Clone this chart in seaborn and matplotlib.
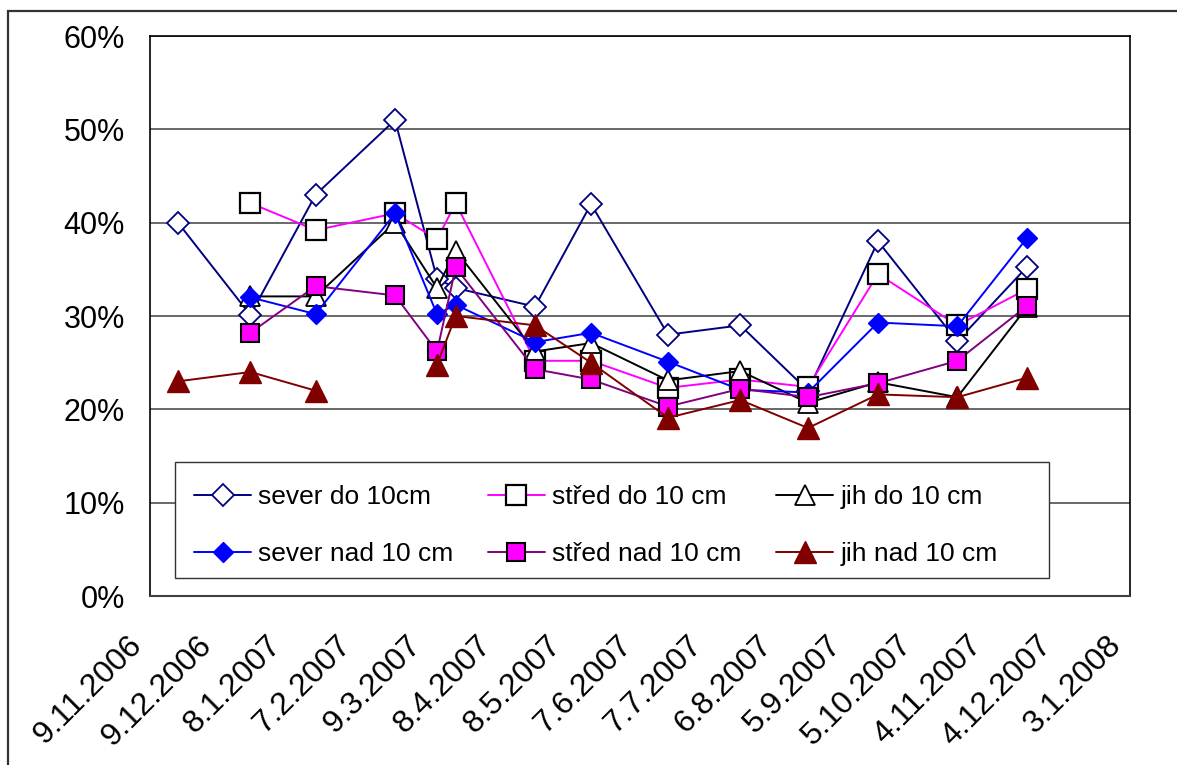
import numpy as np
import pandas as pd
import matplotlib
matplotlib.use("Agg")
import matplotlib.pyplot as plt
import matplotlib.transforms as mtransforms
from matplotlib.patches import Rectangle
import seaborn as sns

# Sampling dates and x-axis tick dates
sample_dates = ['21.11.2006', '22.12.2006', '19.1.2007', '22.2.2007', '12.3.2007',
                '20.3.2007', '23.4.2007', '17.5.2007', '19.6.2007', '20.7.2007',
                '18.8.2007', '17.9.2007', '21.10.2007', '20.11.2007']
tick_labels = ['9.11.2006', '9.12.2006', '8.1.2007', '7.2.2007', '9.3.2007', '8.4.2007',
               '8.5.2007', '7.6.2007', '7.7.2007', '6.8.2007', '5.9.2007', '5.10.2007',
               '4.11.2007', '4.12.2007', '3.1.2008']
y_ticks = [0, 10, 20, 30, 40, 50, 60]

nan = np.nan
# Values in percent
sever_do = [40, 30.1, 43, 51, 34, 33, 31, 42, 28, 29, 22, 38, 27.3, 35.3]
stred_do = [nan, 42.1, 39.2, 41, 38.2, 42.1, 25.2, 25.2, 22.3, 23.2, 22.4, 34.5, 29, 32.9]
jih_do = [nan, 32.1, 32.1, 40, 33, 37, 26.2, 27.1, 23.1, 24.1, 20.7, 22.9, 21.3, 31]
sever_nad = [nan, 32, 30.2, 41, 30.2, 31.2, 27.2, 28.2, 25.1, 22.1, 21.8, 29.3, 28.9, 38.4]
stred_nad = [nan, 28.2, 33.2, 32.2, 26.2, 35.2, 24.3, 23.2, 20.3, 22.2, 21.3, 22.8, 25.2, 31.1]
jih_nad = [23, 24, 22, nan, 24.8, 30, 29, 25, 19.1, 21, 18, 21.6, 21.3, 23.4]

series_names = ['sever do 10cm', 'střed do 10 cm', 'jih do 10 cm',
                'sever nad 10 cm', 'střed nad 10 cm', 'jih nad 10 cm']
series_values = [sever_do, stred_do, jih_do, sever_nad, stred_nad, jih_nad]
series_styles = [
    dict(color='#000080', marker='D', markersize=10.8, markerfacecolor='white',
         markeredgecolor='#000080', markeredgewidth=1.3),
    dict(color='#FF00FF', marker='s', markersize=15, markerfacecolor='white',
         markeredgecolor='black', markeredgewidth=1.6),
    dict(color='black', marker='^', markersize=14, markerfacecolor='white',
         markeredgecolor='black', markeredgewidth=1.3),
    dict(color='#0000FF', marker='D', markersize=10.2, markerfacecolor='#0000FF',
         markeredgecolor='#0000FF', markeredgewidth=1.0),
    dict(color='#800080', marker='s', markersize=13, markerfacecolor='#FF00FF',
         markeredgecolor='black', markeredgewidth=1.5),
    dict(color='#800000', marker='^', markersize=16.5, markerfacecolor='#800000',
         markeredgecolor='#800000', markeredgewidth=1.0),
]

sns.set_theme(style='white')
plt.rcParams['font.family'] = ['Liberation Sans', 'DejaVu Sans']
plt.rcParams['text.color'] = 'black'
plt.rcParams['xtick.color'] = 'black'
plt.rcParams['ytick.color'] = 'black'

W, H = 1177, 765
fig = plt.figure(figsize=(W / 100, H / 100), dpi=100)
fig.patch.set_facecolor('white')
ax = fig.add_axes([150 / W, 1 - 596 / H, 980 / W, 560 / H])
ax.set_facecolor('white')

dates = pd.to_datetime(sample_dates, format='%d.%m.%Y')
tick_dates = pd.to_datetime(tick_labels, format='%d.%m.%Y')

handles = {}
for z, (name, vals, style) in enumerate(zip(series_names, series_values, series_styles)):
    v = np.array(vals, dtype=float)
    ok = ~np.isnan(v)
    # split into contiguous runs so missing samples break the line
    runs, cur = [], []
    for i in range(len(v)):
        if ok[i]:
            cur.append(i)
        elif cur:
            runs.append(cur)
            cur = []
    if cur:
        runs.append(cur)
    for r in runs:
        sns.lineplot(x=dates[r], y=v[r], ax=ax, estimator=None, sort=False,
                     legend=False, linewidth=1.4, zorder=3 + z, **style)
        if name not in handles:
            handles[name] = ax.lines[-1]

ax.set_xlim(tick_dates[0], tick_dates[-1])
ax.set_ylim(0, 60)
ax.set_xticks(tick_dates)
ax.set_xticklabels(tick_labels, rotation=45, ha='right', va='center',
                   rotation_mode='anchor', fontsize=23, color='black')
ax.set_yticks(y_ticks)
ax.set_yticklabels([f'{t}%' for t in y_ticks], fontsize=22, color='black')
ax.set_xlabel('')
ax.set_ylabel('')

ax.tick_params(axis='x', direction='out', length=7, width=1.2, color='#555555',
               labelcolor='black', pad=25)
ax.tick_params(axis='y', direction='out', length=7, width=1.2, color='#555555',
               labelcolor='black', pad=11)

# nudge rotated date labels left of their ticks
shift = mtransforms.ScaledTranslation(-13 / 100, 0, fig.dpi_scale_trans)
for lab in ax.get_xticklabels():
    lab.set_transform(lab.get_transform() + shift)

ax.yaxis.grid(True, color='#404040', linewidth=1.1)
ax.xaxis.grid(False)
ax.set_axisbelow(True)
for side in ['left', 'top', 'right']:
    ax.spines[side].set_color('black')
    ax.spines[side].set_linewidth(1.2)
ax.spines['bottom'].set_color('#404040')
ax.spines['bottom'].set_linewidth(1.5)

# legend box frame
ax.add_patch(Rectangle(((175 - 150) / 980, (596 - 578) / 560),
                       (1049 - 175) / 980, (578 - 462) / 560,
                       transform=ax.transAxes, facecolor='white',
                       edgecolor='#333333', linewidth=1.0, zorder=18))

order = ['sever do 10cm', 'sever nad 10 cm', 'střed do 10 cm', 'střed nad 10 cm',
         'jih do 10 cm', 'jih nad 10 cm']
leg = ax.legend([handles[n] for n in order], order, loc='upper left',
                bbox_to_anchor=((194 - 150) / 980, (596 - 485) / 560),
                ncol=3, fontsize=19, frameon=False, borderaxespad=0, borderpad=0,
                handlelength=2.16, handletextpad=0.28, labelspacing=1.25,
                columnspacing=1.3, labelcolor='black')
leg.set_zorder(20)

# outer chart-area frame
fig.patches.append(Rectangle((8 / W, -0.1), 1.2, 1 - 11 / H + 0.1,
                             transform=fig.transFigure, fill=False,
                             edgecolor='#333333', linewidth=1.6))

fig.savefig('out.png', dpi=100, facecolor='white')
